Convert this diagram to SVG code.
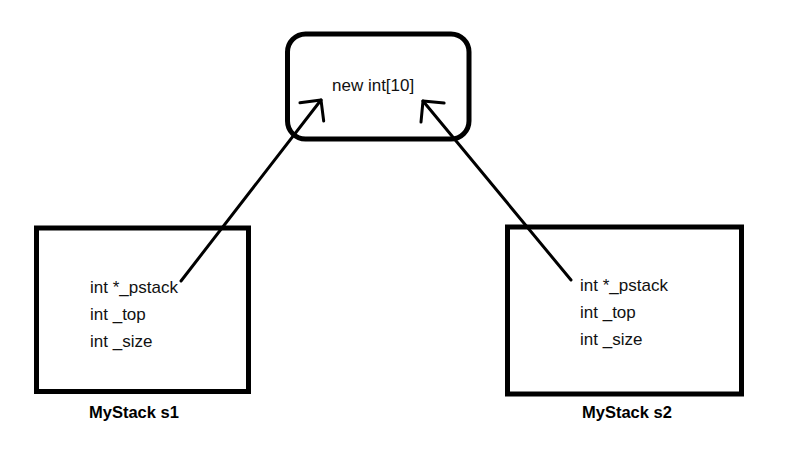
<svg xmlns="http://www.w3.org/2000/svg" width="786" height="452" viewBox="0 0 786 452">
<style>
.box{fill:none;stroke:#000;stroke-width:5}
.t{font-family:"Liberation Sans",Arial,sans-serif;font-size:17px;fill:#111}
.lbl{font-family:"Liberation Sans",Arial,sans-serif;font-size:16.5px;font-weight:bold;fill:#000}
.conn{fill:none;stroke:#000;stroke-width:3;stroke-linecap:round;stroke-linejoin:round}
</style>
<defs>
<marker id="arr" markerUnits="userSpaceOnUse" markerWidth="40" markerHeight="40" refX="20" refY="20" orient="auto" overflow="visible">
<path d="M5,5 L20,20 L5,35" fill="none" stroke="#000" stroke-width="3" stroke-linecap="round" stroke-linejoin="round"/>
</marker>
</defs>
<rect width="786" height="452" fill="#fff"/>
<g id="heap">
<rect class="box" x="287.5" y="34" width="181.5" height="105" rx="18"/>
<text class="t" x="332" y="91">new int[10]</text>
</g>
<g id="s1">
<rect class="box" x="36.5" y="228" width="212" height="163.5"/>
<text class="t" x="90" y="293">int *_pstack</text>
<text class="t" x="90" y="320">int _top</text>
<text class="t" x="90" y="347">int _size</text>
<text class="lbl" x="89" y="418">MyStack s1</text>
</g>
<g id="s2">
<rect class="box" x="507.5" y="227" width="234" height="167"/>
<text class="t" x="580" y="291">int *_pstack</text>
<text class="t" x="580" y="318">int _top</text>
<text class="t" x="580" y="345">int _size</text>
<text class="lbl" x="582" y="418">MyStack s2</text>
</g>
<g id="connectors">
<line class="conn" x1="181" y1="281" x2="321" y2="100" marker-end="url(#arr)"/>
<line class="conn" x1="571" y1="280" x2="423" y2="101" marker-end="url(#arr)"/>
</g>
</svg>
